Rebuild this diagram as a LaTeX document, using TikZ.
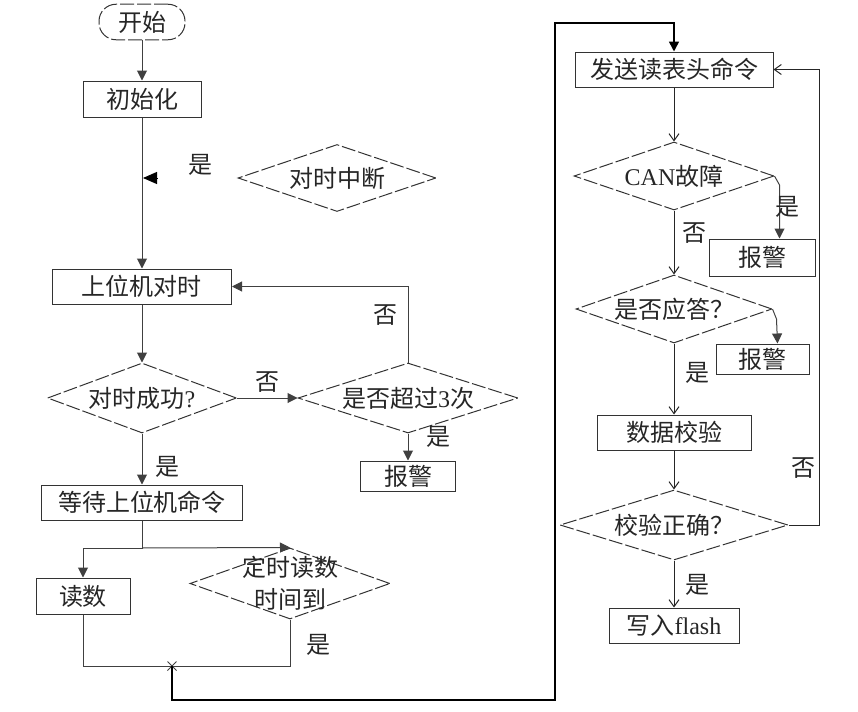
\documentclass[tikz,border=0pt]{standalone}
\usepackage{fontspec}
\setmainfont{Liberation Serif}
\newfontfamily\cjk{Noto Sans CJK SC}
\usetikzlibrary{shapes.geometric,shapes.misc,arrows.meta,calc}
\tikzset{
  stepbox/.style={draw=black!80, line width=0.5pt, minimum height=17.5pt, inner sep=1pt, font=\cjk\fontsize{12}{15}\selectfont, text=black!85, align=center},
  decbox/.style={diamond, aspect=2.8, draw=black!80, line width=0.5pt, dash pattern=on 7pt off 1.5pt, inner sep=0pt, font=\cjk\fontsize{12}{16}\selectfont, text=black!85, align=center},
  termbox/.style={draw=black!80, line width=0.5pt, dash pattern=on 7pt off 1.5pt, rounded corners=8.5pt, minimum width=43pt, minimum height=17.5pt, font=\cjk\fontsize{12}{15}\selectfont, text=black!85},
  lblnode/.style={font=\cjk\fontsize{12}{15}\selectfont, text=black!85, inner sep=0pt},
  fillarrow/.style={-{Triangle[length=5pt,width=5pt]}, black!75, line width=0.5pt},
  bigarrow/.style={-{Triangle[length=7pt,width=6pt]}, black, line width=0.5pt},
  openarrow/.style={-{Straight Barb[length=3.5pt,width=5pt]}, black!85, line width=0.5pt},
  plainline/.style={black!75, line width=0.5pt},
  loopline/.style={black, line width=0.8pt},
}
\begin{document}
\begin{tikzpicture}[x=0.5pt, y=-0.5pt]
  \useasboundingbox (0,0) rectangle (858,712);

  % Left column: start and time sync
  \node[termbox] (start) at (142,22) {开始};
  \node[stepbox, minimum width=59pt, minimum height=18pt] (init) at (142,99) {初始化};
  \node[decbox, minimum width=99pt, minimum height=33.5pt] (intr) at (337,178) {对时中断};
  \node[stepbox, minimum width=89.5pt] (sync) at (142,286.5) {上位机对时};
  \node[decbox, minimum width=94.5pt, minimum height=35pt] (ok) at (142,398) {对时成功\textrm{?}};
  \node[decbox, minimum width=110pt, minimum height=35pt] (retry) at (408,398) {是否超过\textrm{3}次};
  \node[stepbox, minimum width=47.5pt, minimum height=15pt] (alarma) at (408,476) {报警};

  % Left column: waiting and reading
  \node[stepbox, minimum width=100.5pt] (wait) at (142,502.5) {等待上位机命令};
  \node[stepbox, minimum width=47pt, minimum height=18pt] (read) at (83,596) {读数};
  \node[decbox, minimum width=100pt, minimum height=35.5pt, inner sep=-8pt] (timer) at (290,583.5) {定时读数\\时间到};
  \node[cross out, draw=black!75, line width=0.5pt, minimum size=4pt, inner sep=0pt] (join) at (172,666) {};

  % Right column: meter reading
  \node[stepbox, minimum width=99pt] (send) at (674,69.5) {发送读表头命令};
  \node[decbox, minimum width=100pt, minimum height=34pt] (can) at (674,176) {\textrm{CAN}故障};
  \node[stepbox, minimum width=53pt, minimum height=18.5pt] (alarmb) at (762,257.5) {报警};
  \node[decbox, minimum width=98pt, minimum height=34pt] (ack) at (674,309) {是否应答？};
  \node[stepbox, minimum width=46.5pt, minimum height=15pt] (alarmc) at (762.5,359) {报警};
  \node[stepbox, minimum width=77pt] (check) at (674,432.5) {数据校验};
  \node[decbox, minimum width=114pt, minimum height=35pt] (valid) at (674,525) {校验正确？};
  \node[stepbox, minimum width=65pt] (flash) at (674,625.5) {写入\textrm{flash}};

  % Free ends of connectors
  \coordinate (intrhit) at (143,178);
  \coordinate (split) at (142,548);
  \coordinate (loopbl) at (555,700);
  \coordinate (looptl) at (555,23);

  % Arrows, left column
  \draw[fillarrow] (start) -- (init);
  \draw[fillarrow] (init) -- (sync);
  \draw[bigarrow, shorten <=40pt] (intr.west) -- (intrhit);
  \draw[fillarrow] (sync) -- (ok);
  \draw[fillarrow] (ok) -- (retry);
  \draw[fillarrow] (retry.north) |- (sync.east);
  \draw[fillarrow] (retry) -- (alarma);
  \draw[fillarrow] (ok) -- (wait);
  \draw[fillarrow] (wait.south) -- (split) -| (read.north);
  \draw[fillarrow] (split) -- (timer.north);
  \draw[plainline] (read.south) |- (join.center);
  \draw[plainline] (timer.south) |- (join.center);
  \draw[fillarrow, loopline] (join.center) |- (loopbl) -- (looptl) -| (send.north);

  % Arrows, right column
  \draw[openarrow] (send) -- (can);
  \draw[fillarrow] (can.east) -- ++(5,9) -- ($(alarmb.north -| can.east)+(5,0)$);
  \draw[openarrow] (can) -- (ack);
  \draw[fillarrow] (ack.east) -- ++(4,10) -- ($(alarmc.north -| ack.east)+(5,0)$);
  \draw[openarrow] (ack) -- (check);
  \draw[openarrow] (check) -- (valid);
  \draw[openarrow] (valid) -- (flash);
  \draw[openarrow] (valid.east) -- ++(31,0) |- (send.east);

  % Branch labels
  \node[lblnode] (yintr) at (200,165) {是};
  \node[lblnode] (nok) at (267,382) {否};
  \node[lblnode] (nretry) at (385,315) {否};
  \node[lblnode] (yretry) at (438,437) {是};
  \node[lblnode] (yok) at (167,467) {是};
  \node[lblnode] (ytimer) at (318,645) {是};
  \node[lblnode] (ycan) at (787,207) {是};
  \node[lblnode] (ncan) at (694,233) {否};
  \node[lblnode] (yack) at (697,373) {是};
  \node[lblnode] (nvalid) at (803,468) {否};
  \node[lblnode] (yvalid) at (697,585) {是};
\end{tikzpicture}
\end{document}
